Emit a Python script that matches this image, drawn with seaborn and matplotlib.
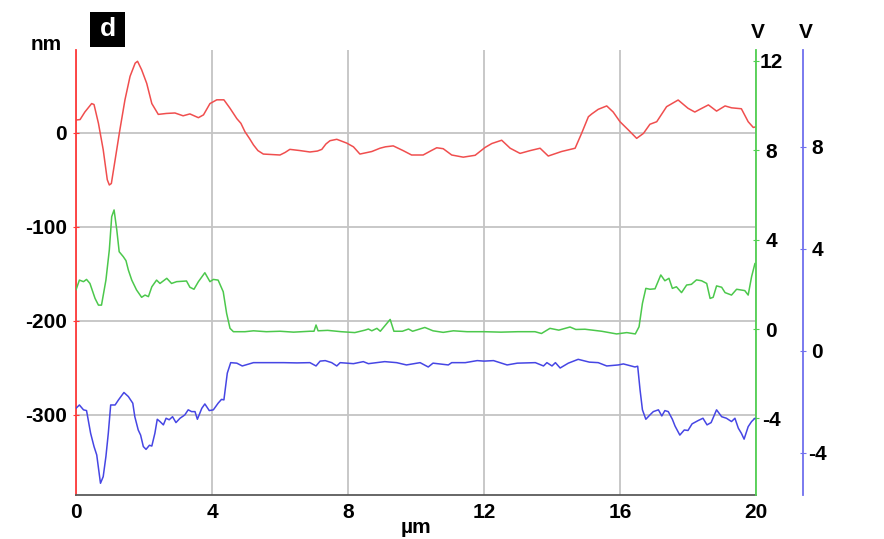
import numpy as np
import pandas as pd
import matplotlib
matplotlib.use("Agg")
import matplotlib.pyplot as plt
from matplotlib.patches import Rectangle
import seaborn as sns

# ---------------- data ----------------
red_x = [0, 0.12, 0.26, 0.46, 0.53, 0.66, 0.80, 0.92, 0.98, 1.04, 1.15, 1.29, 1.44, 1.59,
         1.74, 1.81, 1.93, 2.08, 2.23, 2.42, 2.66, 2.91, 3.15, 3.35, 3.60, 3.75, 3.94, 4.14,
         4.35, 4.53, 4.73, 4.85, 4.97, 5.10, 5.22, 5.35, 5.51, 6.00, 6.15, 6.29, 6.59, 6.88,
         7.10, 7.23, 7.35, 7.47, 7.67, 7.96, 8.16, 8.35, 8.70, 8.94, 9.10, 9.33, 9.62, 9.87,
         10.21, 10.45, 10.61, 10.80, 11.05, 11.39, 11.74, 12.03, 12.23, 12.52, 12.77, 13.06,
         13.36, 13.65, 13.89, 14.28, 14.68, 14.87, 15.07, 15.17, 15.36, 15.61, 15.80, 16.00,
         16.25, 16.49, 16.69, 16.88, 17.08, 17.37, 17.71, 18.00, 18.20, 18.35, 18.60, 18.84,
         19.09, 19.28, 19.57, 19.77, 19.92, 20.0]
red_nm = [13.5, 14, 22, 31, 30, 10, -18, -50, -55.6, -54, -29, 3, 35, 60,
          74, 76, 67, 52.5, 31, 19.5, 20.5, 21, 18, 20, 16, 19, 31, 35,
          35, 26, 15, 10, 1, -6, -13, -19, -22.7, -23.7, -21, -17.7, -19, -20.5,
          -19.5, -17.7, -12, -8.5, -7, -11, -15, -22.7, -20, -16.5, -15, -14, -19, -23.7,
          -23.7, -19, -16, -17, -23.7, -26, -24, -15.7, -11.5, -8, -16.5, -22,
          -19, -16.5, -24.8, -20, -16.5, -0.7, 17, 20, 24.9, 28.5, 22, 11.7,
          2.8, -6, -0.7, 9, 11.7, 27.7, 34.8, 26, 22, 24.9, 29.6, 23,
          28.5, 26.5, 25.5, 11.7, 5.6, 6.3]

green_x = [0, 0.10, 0.22, 0.31, 0.41, 0.56, 0.66, 0.75, 0.88, 0.98, 1.05, 1.12, 1.20, 1.27,
           1.39, 1.47, 1.54, 1.64, 1.78, 1.93, 2.03, 2.13, 2.23, 2.37, 2.47, 2.67, 2.81, 2.96,
           3.25, 3.35, 3.47, 3.60, 3.79, 3.94, 4.04, 4.18, 4.33, 4.43, 4.53, 4.63, 4.97,
           5.22, 5.60, 6.00, 6.40, 6.88, 7.00, 7.06, 7.12, 7.40, 7.80, 8.20, 8.50, 8.60, 8.70,
           8.85, 8.95, 9.24, 9.35, 9.60, 9.78, 9.90, 10.26, 10.50, 10.80, 11.10, 11.50, 12.00,
           12.50, 13.00, 13.50, 13.69, 13.94, 14.20, 14.53, 14.70, 14.97, 15.46, 15.90, 16.20,
           16.45, 16.56, 16.66, 16.76, 16.88, 17.03, 17.20, 17.32, 17.44, 17.54, 17.66, 17.81,
           17.96, 18.10, 18.25, 18.40, 18.55, 18.65, 18.74, 18.84, 18.99, 19.09, 19.28, 19.43,
           19.67, 19.77, 19.87, 19.97]
green_v = [1.75, 2.19, 2.12, 2.22, 2.04, 1.37, 1.07, 1.07, 2.19, 3.54, 5.03, 5.33, 4.43, 3.46,
           3.24, 3.06, 2.64, 2.19, 1.75, 1.42, 1.52, 1.45, 1.89, 2.19, 2.04, 2.27, 2.04, 2.12,
           2.15, 1.87, 1.78, 2.12, 2.52, 2.12, 2.22, 2.19, 1.67, 0.70, 0.03, -0.12, -0.12,
           -0.08, -0.12, -0.10, -0.14, -0.10, -0.10, 0.18, -0.08, -0.06, -0.12, -0.16, -0.05, 0.0, -0.08,
           0.03, -0.10, 0.43, -0.10, -0.10, 0.0, -0.10, 0.07, -0.08, -0.15, -0.08, -0.12, -0.12,
           -0.14, -0.12, -0.12, -0.20, 0.03, -0.05, 0.09, -0.02, -0.01, -0.10, -0.22, -0.16,
           -0.22, 0.10, 1.15, 1.82, 1.78, 1.80, 2.42, 2.16, 2.27, 1.82, 1.89, 1.63,
           1.97, 2.00, 2.20, 2.16, 2.04, 1.37, 1.42, 1.93, 1.87, 1.63, 1.52, 1.78,
           1.72, 1.52, 2.34, 2.94]

blue_x = [0, 0.10, 0.22, 0.31, 0.43, 0.53, 0.61, 0.72, 0.80, 0.88, 0.95, 1.02, 1.15, 1.25,
          1.41, 1.54, 1.67, 1.73, 1.83, 1.90, 1.98, 2.06, 2.16, 2.23, 2.32, 2.39, 2.47, 2.57,
          2.65, 2.74, 2.84, 2.94, 3.06, 3.20, 3.30, 3.40, 3.50, 3.57, 3.70, 3.79, 3.92, 4.04,
          4.18, 4.28, 4.35, 4.45, 4.55, 4.73, 4.89, 5.22, 5.60, 6.10, 6.50, 6.88, 7.06, 7.18,
          7.33, 7.52, 7.67, 7.77, 8.16, 8.45, 8.60, 9.08, 9.43, 9.72, 10.12, 10.36, 10.50,
          10.95, 11.05, 11.45, 11.80, 12.00, 12.28, 12.68, 12.98, 13.51, 13.75, 13.85, 14.00,
          14.10, 14.24, 14.48, 14.77, 15.10, 15.36, 15.61, 15.95, 16.10, 16.44, 16.52, 16.59,
          16.66, 16.76, 16.88, 16.98, 17.13, 17.23, 17.32, 17.42, 17.54, 17.62, 17.76, 17.89,
          18.00, 18.12, 18.30, 18.44, 18.56, 18.68, 18.84, 18.99, 19.13, 19.28, 19.38, 19.48,
          19.57, 19.65, 19.77, 19.87, 19.97]
blue_v = [-2.25, -2.12, -2.31, -2.34, -3.23, -3.75, -4.08, -5.19, -4.93, -4.14, -3.23, -2.12, -2.12, -1.92,
          -1.63, -1.79, -2.05, -2.58, -3.10, -3.30, -3.75, -3.86, -3.70, -3.73, -3.23, -2.68, -2.77, -2.90,
          -2.64, -2.70, -2.58, -2.81, -2.64, -2.51, -2.31, -2.38, -2.38, -2.68, -2.25, -2.08, -2.34, -2.31,
          -2.05, -1.90, -1.92, -0.87, -0.46, -0.48, -0.59, -0.46, -0.46, -0.46, -0.47, -0.46, -0.59, -0.40,
          -0.38, -0.46, -0.59, -0.46, -0.50, -0.42, -0.50, -0.42, -0.46, -0.55, -0.46, -0.63, -0.48,
          -0.55, -0.46, -0.46, -0.38, -0.40, -0.38, -0.55, -0.48, -0.46, -0.59, -0.46, -0.59,
          -0.46, -0.67, -0.48, -0.33, -0.44, -0.46, -0.59, -0.55, -0.51, -0.63, -0.60, -1.53,
          -2.31, -2.68, -2.51, -2.38, -2.31, -2.55, -2.34, -2.38, -2.68, -2.95, -3.30, -3.10,
          -3.12, -2.86, -2.73, -2.64, -2.90, -2.81, -2.31, -2.58, -2.64, -2.77, -2.64, -3.03,
          -3.23, -3.46, -2.97, -2.77, -2.64]

x_ticks = [0, 4, 8, 12, 16, 20]
nm_ticks = [0, -100, -200, -300]
green_ticks = [12, 8, 4, 0, -4]
blue_ticks = [8, 4, 0, -4]

red_df = pd.DataFrame({"x": red_x, "y": red_nm})
green_df = pd.DataFrame({"x": green_x, "y": green_v})
blue_df = pd.DataFrame({"x": blue_x, "y": blue_v})

# ---------------- style ----------------
sns.set_style("white")
plt.rcParams['font.family'] = ['Liberation Sans', 'DejaVu Sans']
plt.rcParams['font.weight'] = 'bold'
plt.rcParams['axes.unicode_minus'] = False
plt.rcParams['text.color'] = 'black'
plt.rcParams['axes.labelcolor'] = 'black'
plt.rcParams['xtick.color'] = 'black'
plt.rcParams['ytick.color'] = 'black'

RED_L, RED_S = "#f04e4e", "#ff3a3a"
GRN_L, GRN_S = "#4cc84c", "#52d052"
BLU_L, BLU_S = "#4646e4", "#7070ee"
GRID = "#c4c4c4"
FS = 15

W, H = 884, 539
fig = plt.figure(figsize=(W / 100, H / 100), dpi=100)
L, R, T, B = 76, 756, 50, 495
ax = fig.add_axes([L / W, 1 - B / H, (R - L) / W, (B - T) / H])
ax2 = ax.twinx()
ax3 = ax.twinx()

sns.lineplot(data=red_df, x="x", y="y", ax=ax, color=RED_L, lw=1.1, estimator=None)
sns.lineplot(data=green_df, x="x", y="y", ax=ax2, color=GRN_L, lw=1.1, estimator=None)
sns.lineplot(data=blue_df, x="x", y="y", ax=ax3, color=BLU_L, lw=1.1, estimator=None)

ax.set_xlim(0, 20)
ax.set_ylim(-385.4, 88)
ax2.set_ylim(-7.43, 12.49)
ax3.set_ylim(-5.65, 11.8)

ax.set_xticks(x_ticks)
ax.set_yticks(nm_ticks)
ax2.set_yticks(green_ticks)
ax3.set_yticks(blue_ticks)

ax.grid(True, color=GRID, lw=1.3)
ax2.grid(False)
ax3.grid(False)

for a in (ax, ax2, ax3):
    a.set_xlabel("")
    a.set_ylabel("")
    a.spines["top"].set_visible(False)

ax.spines["right"].set_visible(False)
ax.spines["left"].set_color(RED_S)
ax.spines["left"].set_linewidth(1.3)
ax.spines["bottom"].set_color("#5a5a5a")
ax.spines["bottom"].set_linewidth(1.3)

for a in (ax2, ax3):
    a.spines["left"].set_visible(False)
    a.spines["bottom"].set_visible(False)
ax2.spines["right"].set_color(GRN_S)
ax2.spines["right"].set_linewidth(1.3)
ax3.spines["right"].set_position(("axes", (803 - L) / (R - L)))
ax3.spines["right"].set_color(BLU_S)
ax3.spines["right"].set_linewidth(1.3)

ax.tick_params(axis="x", direction="inout", length=4, color="#5a5a5a",
               labelcolor="black", labelsize=FS, pad=3.8)
ax.tick_params(axis="y", direction="inout", length=4, color=RED_S,
               labelcolor="black", labelsize=FS, pad=4.5)
ax2.tick_params(axis="y", direction="inout", length=4, color=GRN_S,
                labelcolor="black", labelsize=FS, pad=8.8)
ax3.tick_params(axis="y", direction="inout", length=4, color=BLU_S,
                labelcolor="black", labelsize=FS, pad=8.1)
for a in (ax2, ax3):
    for lab in a.get_yticklabels():
        lab.set_horizontalalignment("center")
for a in (ax, ax2, ax3):
    for lab in a.get_xticklabels() + a.get_yticklabels():
        lab.set_fontweight("bold")

ax.set_xlabel("µm", fontsize=FS, fontweight="bold", labelpad=-3, color="black")

fig.text(46 / W, 1 - 45 / H, "nm", fontsize=FS, fontweight="bold", ha="center", va="center")
fig.text(758 / W, 1 - 33 / H, "V", fontsize=FS, fontweight="bold", ha="center", va="center")
fig.text(806 / W, 1 - 33 / H, "V", fontsize=FS, fontweight="bold", ha="center", va="center")

fig.patches.append(Rectangle((90 / W, 1 - 47 / H), 35 / W, 35 / H, transform=fig.transFigure,
                             facecolor="black", edgecolor="none"))
fig.text(107.5 / W, 1 - 29.5 / H, "d", fontsize=19, fontweight="bold", color="white",
         ha="center", va="center")

fig.savefig("out.png", dpi=100)
